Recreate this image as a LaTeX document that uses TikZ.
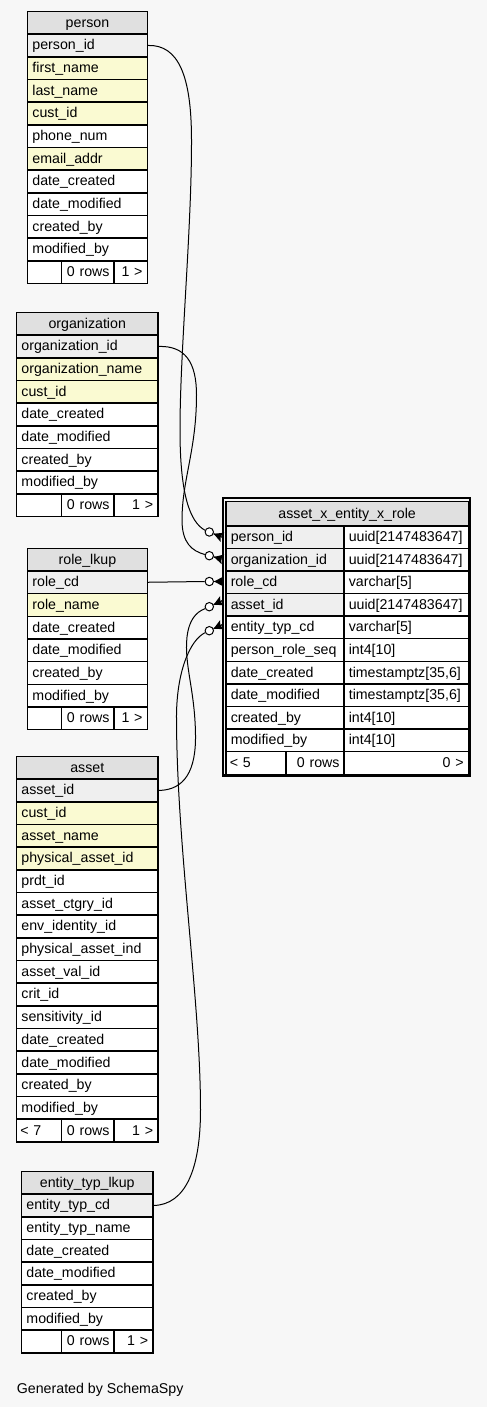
\documentclass[tikz,border=0pt]{standalone}
\usepackage{fontspec}
\setmainfont{Liberation Sans}
\definecolor{bgc}{HTML}{F7F7F7}
\definecolor{hdrgray}{HTML}{E0E0E0}
\definecolor{pkgray}{HTML}{EFEFEF}
\definecolor{ixyel}{HTML}{FAFAD2}
\newcommand\rowh{22.67}
\tikzset{
  cellbase/.style={draw=black, line width=1.5pt, anchor=north west, minimum height=22.67pt,
    inner xsep=5pt, inner ysep=0pt, text height=11pt, text depth=2pt,
    font=\fontsize{14.2}{16}\selectfont},
  conn/.style={draw=black, line width=1pt},
  odot/.style={circle, draw=black, fill=white, line width=1pt, minimum size=8.4pt, inner sep=0pt},
  crowfoot/.pic={\fill[black] (0,0) -- (9.5,-5) -- (7.5,0) -- (9.5,5) -- cycle;
                 \draw[line width=1.2pt] (0,0) -- (9.5,0);}
}
% table: name, x left, x right, y top, title, list of colour/text
\newcommand\dbtbl[6]{%
  \pgfmathsetmacro\tw{#3-#2-10}%
  \pgfmathsetmacro\cw{#3-#2}%
  \node[cellbase, fill=hdrgray, align=center, minimum width=\cw pt, text width=\tw pt] (#1-h) at (#2,#4) {#5};
  \foreach \rc/\rt [count=\i] in {#6} {
    \node[cellbase, fill=\rc, align=left, minimum width=\cw pt, text width=\tw pt] (#1-\i) at (#2,{#4+\i*\rowh}) {\rt};
  }
}
% footer: name, x0, x1, x2, x3, y top, left, middle, right
\newcommand\dbfoot[9]{%
  \pgfmathsetmacro\wa{#3-#2}\pgfmathsetmacro\ta{#3-#2-8}%
  \pgfmathsetmacro\wb{#4-#3}\pgfmathsetmacro\tb{#4-#3-9}%
  \pgfmathsetmacro\wc{#5-#4}\pgfmathsetmacro\tc{#5-#4-10}%
  \node[cellbase, fill=white, align=left, inner xsep=4pt, minimum width=\wa pt, text width=\ta pt] (#1-fa) at (#2,#6) {\mbox{#7}};
  \node[cellbase, fill=white, align=right, inner xsep=4.5pt, minimum width=\wb pt, text width=\tb pt] (#1-fb) at (#3,#6) {\mbox{#8}};
  \node[cellbase, fill=white, align=right, minimum width=\wc pt, text width=\tc pt] (#1-fc) at (#4,#6) {\mbox{#9}};
}
\begin{document}
\begin{tikzpicture}[x=1pt, y=-1pt]
\fill[bgc] (0,0) rectangle (487,1407);
\useasboundingbox (0,0) rectangle (487,1407);

% person
\dbtbl{person}{26.7}{146.7}{10.7}{person}{pkgray/person\_id, ixyel/first\_name, ixyel/last\_name, ixyel/cust\_id, white/phone\_num, ixyel/email\_addr, white/date\_created, white/date\_modified, white/created\_by, white/modified\_by}
\dbfoot{person}{26.7}{60.7}{113.3}{146.7}{260.07}{}{0 rows}{1 >}

% organization
\dbtbl{org}{15.7}{157.3}{311.7}{organization}{pkgray/organization\_id, ixyel/organization\_name, ixyel/cust\_id, white/date\_created, white/date\_modified, white/created\_by, white/modified\_by}
\dbfoot{org}{15.7}{60.7}{113.3}{157.3}{493.06}{}{0 rows}{1 >}

% role_lkup
\dbtbl{role}{26.7}{146.7}{547.5}{role\_lkup}{pkgray/role\_cd, ixyel/role\_name, white/date\_created, white/date\_modified, white/created\_by, white/modified\_by}
\dbfoot{role}{26.7}{60.7}{113.3}{146.7}{706.19}{}{0 rows}{1 >}

% asset
\dbtbl{asset}{15.7}{157.3}{755.7}{asset}{pkgray/asset\_id, ixyel/cust\_id, ixyel/asset\_name, ixyel/physical\_asset\_id, white/prdt\_id, white/asset\_ctgry\_id, white/env\_identity\_id, white/physical\_asset\_ind, white/asset\_val\_id, white/crit\_id, white/sensitivity\_id, white/date\_created, white/date\_modified, white/created\_by, white/modified\_by}
\dbfoot{asset}{15.7}{60.7}{113.3}{157.3}{1118.42}{< 7}{0 rows}{1 >}

% entity_typ_lkup
\dbtbl{etl}{20.7}{152.3}{1170.7}{entity\_typ\_lkup}{pkgray/entity\_typ\_cd, white/entity\_typ\_name, white/date\_created, white/date\_modified, white/created\_by, white/modified\_by}
\dbfoot{etl}{20.7}{60.7}{113.3}{152.3}{1329.39}{}{0 rows}{1 >}

% asset_x_entity_x_role (focus table)
\draw[line width=2.4pt] (222.9,497.9) rectangle (469.8,775.5);
\node[cellbase, fill=hdrgray, align=center, minimum width=242.8pt, minimum height=24.5pt, text width=232.8pt] (ax-h) at (225,500.5) {asset\_x\_entity\_x\_role};
\foreach \rc/\ra/\rb [count=\i] in {pkgray/person\_id/uuid[2147483647], pkgray/organization\_id/uuid[2147483647], pkgray/role\_cd/varchar[5], pkgray/asset\_id/uuid[2147483647], white/entity\_typ\_cd/varchar[5], white/person\_role\_seq/int4[10], white/date\_created/{timestamptz[35,6]}, white/date\_modified/{timestamptz[35,6]}, white/created\_by/int4[10], white/modified\_by/int4[10]} {
  \node[cellbase, fill=\rc, align=left, minimum width=118.3pt, minimum height=22.59pt, text width=108.3pt] (ax-\i) at (225,{525+(\i-1)*22.59}) {\ra};
  \node[cellbase, fill=white, align=left, minimum width=124.5pt, minimum height=22.59pt, text width=115pt, inner xsep=4.75pt] (axt-\i) at (343.3,{525+(\i-1)*22.59}) {\rb};
}
\dbfoot{ax}{225}{285}{343.3}{467.8}{750.9}{< 5}{0 rows}{0 >}

% relationship markers
\node[odot] (c1) at (209.3,532) {};
\node[odot] (c2) at (209.3,555.7) {};
\node[odot] (c3) at (209.3,581.5) {};
\node[odot] (c4) at (209.3,606.7) {};
\node[odot] (c5) at (209.3,630.7) {};

% connectors
\draw[conn] (person-1.east) .. controls (178,44.7) and (191.5,75) .. (191.5,140)
  .. controls (191.7,230) and (180,350) .. (180,430)
  .. controls (180,495) and (190,522) .. (c1.158);
\draw[conn] (org-1.east) .. controls (185,345.7) and (196.5,362) .. (196.5,395)
  .. controls (196.5,450) and (182,480) .. (182,520)
  .. controls (182,543) and (192,551) .. (c2.165);
\draw[conn] (role-1.east) -- (c3.west);
\draw[conn] (asset-1.east) .. controls (185,790) and (196,770) .. (195.5,735)
  .. controls (195,690) and (184,665) .. (187,637)
  .. controls (189,620) and (196,612) .. (c4.205);
\draw[conn] (etl-1.east) .. controls (185,1204.7) and (200.5,1170) .. (200.5,1110)
  .. controls (200.5,1000) and (177,850) .. (176.5,720)
  .. controls (176,672) and (190,640) .. (c5.205);

\pic[rotate=-22] at (c1.-22) {crowfoot};
\pic[rotate=-15] at (c2.-15) {crowfoot};
\pic at (c3.east) {crowfoot};
\pic[rotate=25] at (c4.25) {crowfoot};
\pic[rotate=25] at (c5.25) {crowfoot};

\node[anchor=base west, inner sep=0pt, font=\fontsize{14.2}{16}\selectfont] (gen) at (16.7,1393.5) {Generated by SchemaSpy};
\end{tikzpicture}
\end{document}
